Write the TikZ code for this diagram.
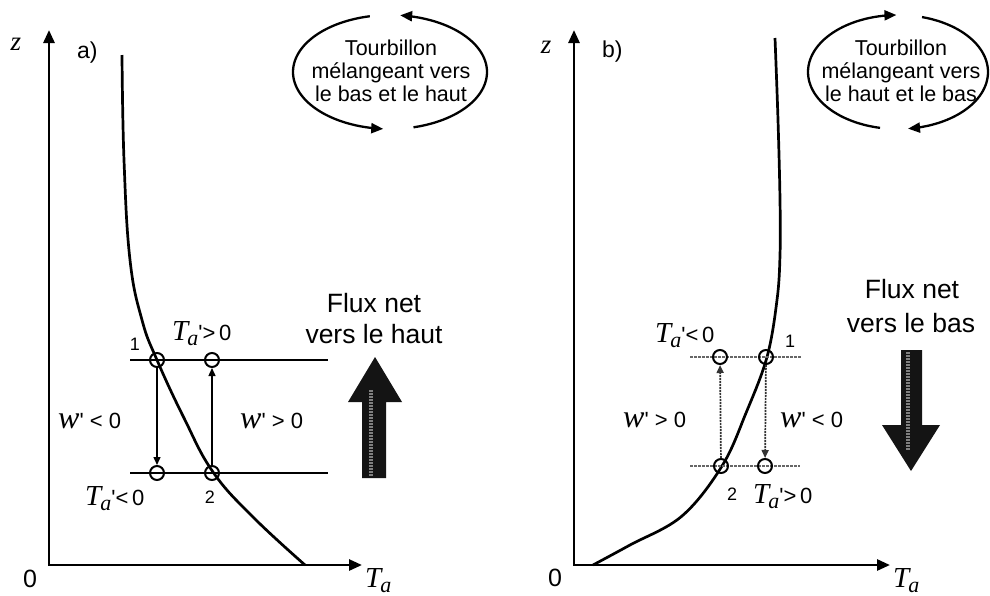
\documentclass[tikz,border=0pt]{standalone}
\usepackage{fontspec}
\setmainfont{Liberation Sans}
\newfontfamily\tms{Liberation Serif}
\usetikzlibrary{arrows.meta}
\newcommand\myT{{\tms\itshape\fontsize{29}{29}\selectfont T}}
\newcommand\mysub{\raisebox{-5pt}{\tms\itshape\fontsize{22}{22}\selectfont a}}
\newcommand\myTa{\myT\kern-1pt\mysub}
\newcommand\myw{{\tms\itshape\fontsize{32}{32}\selectfont w}}
\newcommand\myz{{\tms\itshape\fontsize{27}{27}\selectfont z}}
\newcommand\myq{\textquotesingle}
\begin{document}
\begin{tikzpicture}[x=1pt,y=-1pt,
  axis/.style={line width=2.7pt, {Triangle[length=13pt,width=11pt]}-{Triangle[length=13pt,width=11pt]}},
  curve/.style={line width=2.7pt},
  hline/.style={line width=2.3pt},
  hlineb/.style={line width=2.4pt, black!60, dash pattern=on 3pt off 1pt},
  mov/.style={line width=1.4pt, -{Triangle[length=8pt,width=7pt]}},
  movb/.style={mov, black!80, line width=1.7pt, dash pattern=on 2pt off 1pt},
  circ/.style={circle, draw, line width=2pt, minimum size=14pt, inner sep=0pt},
  eddy/.style={line width=2.3pt, -{Triangle[length=12pt,width=10pt]}},
  lab/.style={inner sep=0pt, anchor=base west, font=\fontsize{22}{22}\selectfont},
  num/.style={inner sep=0pt, anchor=base, font=\fontsize{18}{18}\selectfont},
  big/.style={inner sep=0pt, anchor=base, font=\fontsize{26.5}{26.5}\selectfont},
  edt/.style={inner sep=0pt, anchor=base, align=center, font=\fontsize{21.5}{23}\selectfont},
  bigarrow/.style={fill=black!92},
  stip/.style={white!50!black, line width=4pt, dash pattern=on 1.5pt off 1.5pt}
]
\fill[white] (0,0) rectangle (990,595);
\path[use as bounding box] (0,0) rectangle (990,595);

% ================= panel a =================
\coordinate (aZ) at (49,30);
\coordinate (aX) at (362,565);
\draw[axis] (aZ) |- (aX);
\node[inner sep=0pt, anchor=base] (a0) at (30,587) {\fontsize{25}{25}\selectfont 0};
\node[inner sep=0pt, anchor=base west] (aTa) at (365,587) {\myTa};
\node[inner sep=0pt, anchor=base] (az) at (16,50) {\myz};
\node[inner sep=0pt, anchor=base west] (alab) at (77,58) {\fontsize{23}{23}\selectfont a)};

\draw[curve] plot[smooth, tension=0.7] coordinates {(122,55) (124,160) (130,260) (142,320) (157,360) (184,418) (213,472) (253,517) (305,565)};

\coordinate (aL1) at (130,360); \coordinate (aR1) at (328,360);
\coordinate (aL2) at (130,473); \coordinate (aR2) at (328,473);
\draw[hline] (aL1) -- (aR1);
\draw[hline] (aL2) -- (aR2);
\node[circ] (a1) at (157,360) {};
\node[circ] (a1p) at (212,360) {};
\node[circ] (a2p) at (157,473) {};
\node[circ] (a2) at (212,473) {};
\draw[mov] (a1) -- (a2p);
\draw[mov] (a2) -- (a1p);

\node[num] (an1) at (135,350) {1};
\node[num] (an2) at (210,503) {2};
\node[lab] (aTp) at (172,340) {\myTa\myq>\,0};
\node[lab] (aTm) at (85,505) {\myTa\myq<\,0};
\node[lab] (awm) at (58,428) {\myw\myq\ <\ 0};
\node[lab] (awp) at (240,428) {\myw\myq\ >\ 0};

\node[big] (af1) at (374,312) {Flux net};
\node[big] (af2) at (374,343) {vers le haut};
\fill[bigarrow] (362,478) -- (362,402) -- (348,402) -- (375,357) -- (402,402) -- (386,402) -- (386,478) -- cycle;
\draw[stip] (371,390) -- (371,476);

\draw[eddy] plot[domain=258:94, samples=60] ({390+97*cos(\x)}, {72+57*sin(\x)});
\draw[eddy] plot[domain=76:-84, samples=60] ({390+97*cos(\x)}, {72+57*sin(\x)});
\node[edt] (aed) at (391,101) {Tourbillon\\m\'elangeant vers\\le bas et le haut};

% ================= panel b =================
\coordinate (bZ) at (574,30);
\coordinate (bX) at (890,565);
\draw[axis] (bZ) |- (bX);
\node[inner sep=0pt, anchor=base] (b0) at (555,586) {\fontsize{25}{25}\selectfont 0};
\node[inner sep=0pt, anchor=base west] (bTa) at (893,587) {\myTa};
\node[inner sep=0pt, anchor=base] (bz) at (546,53) {\myz};
\node[inner sep=0pt, anchor=base west] (blab) at (602,57) {\fontsize{23}{23}\selectfont b)};

\draw[curve] plot[smooth, tension=0.6] coordinates {(775,38) (778,120) (780,200) (780,255) (777,300) (767,357) (746,413) (722,466) (682,516) (630,545) (593,565)};

\coordinate (bL1) at (690,357); \coordinate (bR1) at (802,357);
\coordinate (bL2) at (690,466); \coordinate (bR2) at (800,466);
\draw[hlineb] (bL1) -- (bR1);
\draw[hlineb] (bL2) -- (bR2);
\node[circ] (b1p) at (720,357) {};
\node[circ] (b1) at (766,357) {};
\node[circ] (b2) at (721,466) {};
\node[circ] (b2p) at (765,466) {};
\draw[movb] (b2) -- (b1p);
\draw[movb] (b1) -- (b2p);

\node[num] (bn1) at (790,347) {1};
\node[num] (bn2) at (732,500) {2};
\node[lab] (bTm) at (655,342) {\myTa\myq<\,0};
\node[lab] (bTp) at (753,503) {\myTa\myq>\,0};
\node[lab] (bwp) at (623,427) {\myw\myq\ >\ 0};
\node[lab] (bwm) at (780,427) {\myw\myq\ <\ 0};

\node[big] (bf1) at (912,298) {Flux net};
\node[big] (bf2) at (911,332) {vers le bas};
\fill[bigarrow] (901,350) -- (922,350) -- (922,425) -- (940,425) -- (911,471) -- (882,425) -- (901,425) -- cycle;
\draw[stip] (908,352) -- (908,450);

\draw[eddy] plot[domain=101.5:269, samples=60] ({898+90*cos(\x)}, {72+57*sin(\x)});
\draw[eddy] plot[domain=-74.5:83.6, samples=60] ({898+90*cos(\x)}, {72+57*sin(\x)});
\node[edt] (bed) at (901,101) {Tourbillon\\m\'elangeant vers\\le haut et le bas};
\end{tikzpicture}
\end{document}
